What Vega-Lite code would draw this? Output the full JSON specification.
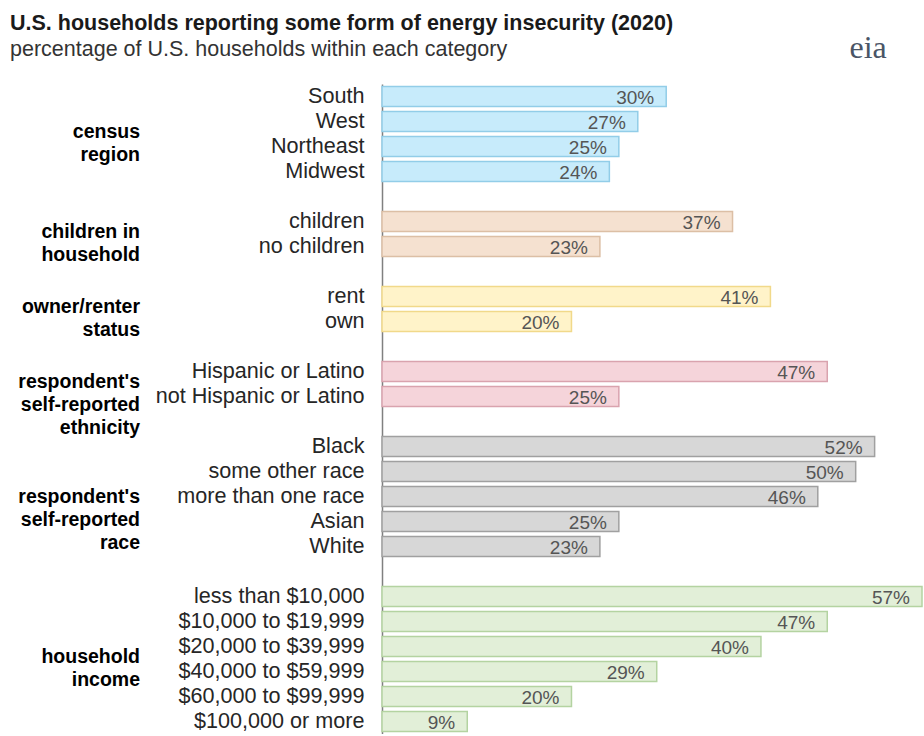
{
  "$schema": "https://vega.github.io/schema/vega-lite/v6.json",
  "padding": {"left": 10, "top": 13, "right": 0, "bottom": 0},
  "title": {
    "text": "U.S. households reporting some form of energy insecurity (2020)",
    "subtitle": "percentage of U.S. households within each category",
    "anchor": "start",
    "frame": "bounds",
    "font": "Liberation Sans",
    "fontSize": 21.5,
    "fontWeight": "bold",
    "color": "#1a1a1a",
    "subtitleFont": "Liberation Sans",
    "subtitleFontSize": 21.5,
    "subtitleColor": "#333333",
    "subtitlePadding": 4,
    "offset": -28
  },
  "config": {
    "font": "Liberation Sans",
    "view": {"stroke": null}
  },
  "datasets": {
    "bars": [
      {"group": "census region", "category": "South", "value": 0.30},
      {"group": "census region", "category": "West", "value": 0.27},
      {"group": "census region", "category": "Northeast", "value": 0.25},
      {"group": "census region", "category": "Midwest", "value": 0.24},
      {"group": "children in household", "category": "children", "value": 0.37},
      {"group": "children in household", "category": "no children", "value": 0.23},
      {"group": "owner/renter status", "category": "rent", "value": 0.41},
      {"group": "owner/renter status", "category": "own", "value": 0.20},
      {"group": "ethnicity", "category": "Hispanic or Latino", "value": 0.47},
      {"group": "ethnicity", "category": "not Hispanic or Latino", "value": 0.25},
      {"group": "race", "category": "Black", "value": 0.52},
      {"group": "race", "category": "some other race", "value": 0.50},
      {"group": "race", "category": "more than one race", "value": 0.46},
      {"group": "race", "category": "Asian", "value": 0.25},
      {"group": "race", "category": "White", "value": 0.23},
      {"group": "household income", "category": "less than $10,000", "value": 0.57},
      {"group": "household income", "category": "$10,000 to $19,999", "value": 0.47},
      {"group": "household income", "category": "$20,000 to $39,999", "value": 0.40},
      {"group": "household income", "category": "$40,000 to $59,999", "value": 0.29},
      {"group": "household income", "category": "$60,000 to $99,999", "value": 0.20},
      {"group": "household income", "category": "$100,000 or more", "value": 0.09}
    ],
    "groupLabels": [
      {"label": "census\nregion", "anchor": "West"},
      {"label": "children in\nhousehold", "anchor": "children"},
      {"label": "owner/renter\nstatus", "anchor": "rent"},
      {"label": "respondent's\nself-reported\nethnicity", "anchor": "Hispanic or Latino"},
      {"label": "respondent's\nself-reported\nrace", "anchor": "more than one race"},
      {"label": "household\nincome", "anchor": "$20,000 to $39,999"}
    ]
  },
  "vconcat": [
    {
      "title": {
        "text": "eia",
        "anchor": "end",
        "frame": "bounds",
        "font": "Liberation Serif",
        "fontSize": 32,
        "fontWeight": "normal",
        "color": "#4a5566",
        "dx": -36,
        "dy": -19,
        "offset": 0
      },
      "spacing": 15,
      "resolve": {"scale": {"y": "shared"}},
      "hconcat": [
        {
          "data": {"name": "groupLabels"},
          "width": 130,
          "height": {"step": 25},
          "layer": [
            {
              "transform": [{"filter": {"not": {"field": "anchor", "equal": "more than one race"}}}],
              "mark": {
                "type": "text",
                "x": "width",
                "align": "right",
                "baseline": "middle",
                "lineBreak": "\n",
                "lineHeight": 23,
                "font": "Liberation Sans",
                "fontSize": 19.5,
                "fontWeight": "bold",
                "color": "#000000"
              },
              "encoding": {
                "y": {
                  "field": "anchor",
                  "type": "nominal",
                  "bandPosition": 1,
                  "scale": {
                    "domain": ["South", "West", "Northeast", "Midwest", " ", "children", "no children", "  ", "rent", "own", "   ", "Hispanic or Latino", "not Hispanic or Latino", "    ", "Black", "some other race", "more than one race", "Asian", "White", "     ", "less than $10,000", "$10,000 to $19,999", "$20,000 to $39,999", "$40,000 to $59,999", "$60,000 to $99,999", "$100,000 or more"],
                    "paddingInner": 0.2,
                    "paddingOuter": 0.1
                  },
                  "axis": null
                },
                "text": {"field": "label", "type": "nominal"}
              }
            },
            {
              "transform": [{"filter": {"field": "anchor", "equal": "more than one race"}}],
              "mark": {
                "type": "text",
                "x": "width",
                "align": "right",
                "baseline": "middle",
                "lineBreak": "\n",
                "lineHeight": 23,
                "font": "Liberation Sans",
                "fontSize": 19.5,
                "fontWeight": "bold",
                "color": "#000000"
              },
              "encoding": {
                "y": {
                  "field": "anchor",
                  "type": "nominal",
                  "bandPosition": 0.5,
                  "axis": null
                },
                "text": {"field": "label", "type": "nominal"}
              }
            }
          ]
        },
        {
          "data": {"name": "bars"},
          "width": 540,
          "height": {"step": 25},
          "encoding": {
            "y": {
              "field": "category",
              "type": "nominal",
              "scale": {
                "domain": ["South", "West", "Northeast", "Midwest", " ", "children", "no children", "  ", "rent", "own", "   ", "Hispanic or Latino", "not Hispanic or Latino", "    ", "Black", "some other race", "more than one race", "Asian", "White", "     ", "less than $10,000", "$10,000 to $19,999", "$20,000 to $39,999", "$40,000 to $59,999", "$60,000 to $99,999", "$100,000 or more"],
                "paddingInner": 0.2,
                "paddingOuter": 0.1
              },
              "axis": {
                "title": null,
                "ticks": false,
                "labelPadding": 18,
                "labelFont": "Liberation Sans",
                "labelFontSize": 21.6,
                "labelColor": "#262626",
                "labelLimit": 400,
                "domainColor": "#808080",
                "domainWidth": 1.5
              }
            },
            "x": {
              "field": "value",
              "type": "quantitative",
              "scale": {"domain": [0, 0.57], "nice": false},
              "axis": null
            }
          },
          "layer": [
            {
              "mark": {"type": "bar", "strokeWidth": 1.5},
              "encoding": {
                "fill": {
                  "field": "group",
                  "type": "nominal",
                  "legend": null,
                  "scale": {
                    "domain": ["census region", "children in household", "owner/renter status", "ethnicity", "race", "household income"],
                    "range": ["#c7ebfb", "#f5e1d0", "#fff3c9", "#f5d4da", "#d7d7d7", "#e2efd8"]
                  }
                },
                "stroke": {
                  "field": "group",
                  "type": "nominal",
                  "legend": null,
                  "scale": {
                    "domain": ["census region", "children in household", "owner/renter status", "ethnicity", "race", "household income"],
                    "range": ["#92cde8", "#dcbfa5", "#f1d98a", "#d9a3ae", "#a0a0a0", "#b4d3a1"]
                  }
                }
              }
            },
            {
              "mark": {
                "type": "text",
                "align": "right",
                "baseline": "middle",
                "dx": -12,
                "dy": 1,
                "fontSize": 19,
                "color": "#555555"
              },
              "encoding": {
                "text": {"field": "value", "type": "quantitative", "format": ".0%"}
              }
            }
          ]
        }
      ]
    }
  ]
}
